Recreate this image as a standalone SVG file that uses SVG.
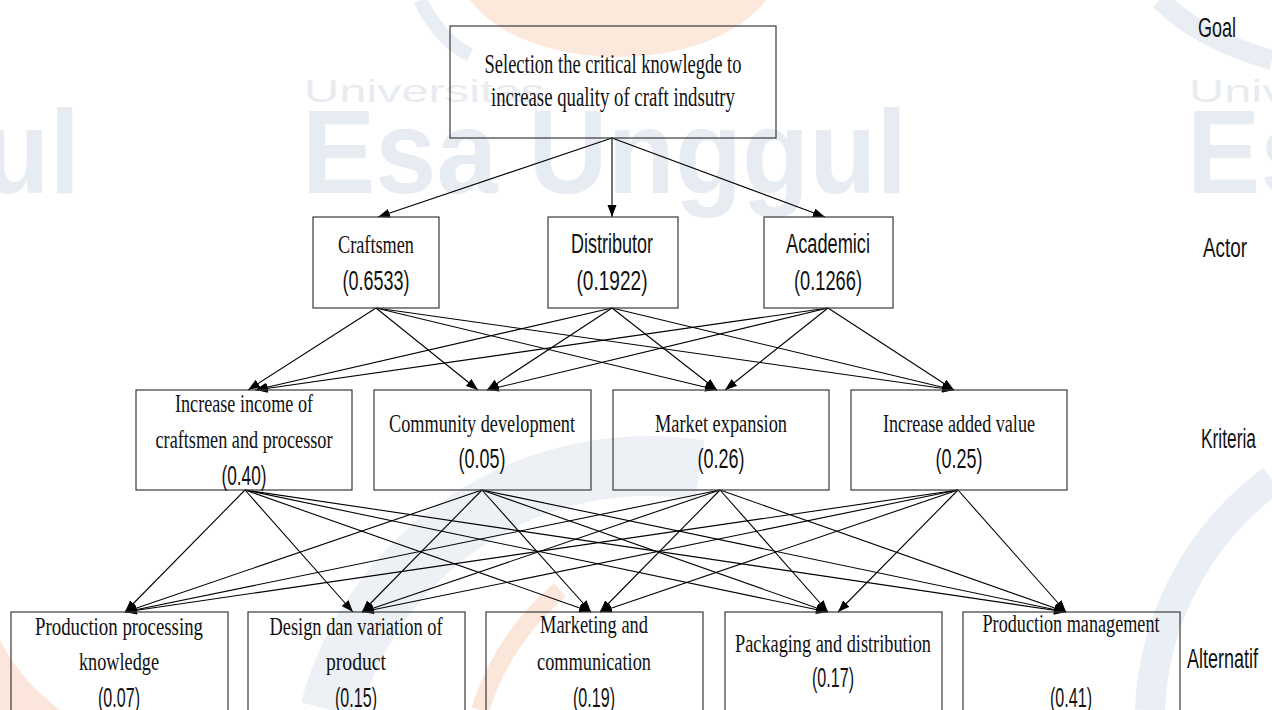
<svg xmlns="http://www.w3.org/2000/svg" width="1272" height="710" viewBox="0 0 1272 710">
<defs>
<marker id="ah" markerUnits="userSpaceOnUse" markerWidth="14" markerHeight="10" refX="12" refY="4.5" orient="auto">
<path d="M0,0 L12,4.5 L0,9 z" fill="#000"/>
</marker>
<style>
.box{fill:none;stroke:#3a3a3a;stroke-width:1.2}
.ser{font-family:"Liberation Serif","Times New Roman",serif;font-size:26px;fill:#111;text-anchor:middle}
.goal{font-size:28px}
.san{font-family:"Liberation Sans",Arial,sans-serif;font-size:27px;fill:#111;text-anchor:middle}
.side{font-family:"Liberation Sans",Arial,sans-serif;font-size:27px;fill:#111}
.wm{font-family:"Liberation Sans",Arial,sans-serif;font-weight:bold;font-size:118px;fill:#e6ecf2}
.wu{font-family:"Liberation Sans",Arial,sans-serif;font-size:32px;fill:#e8ecf0}
#conn path{fill:none;stroke:#000;stroke-width:1.1;marker-end:url(#ah)}
</style>
</defs>
<rect width="1272" height="710" fill="#fff"/>
<g id="watermark">
<ellipse cx="618" cy="-35" rx="160" ry="92" fill="#fde8dc"/>
<path d="M420,0 Q440,40 470,55" fill="none" stroke="#e9eef4" stroke-width="14"/>
<path d="M1160,0 Q1200,40 1272,60" fill="none" stroke="#e9eef4" stroke-width="20"/>
<path d="M330,710 A330,330 0 0 1 700,470" fill="none" stroke="#edf1f6" stroke-width="60"/>
<path d="M480,710 A260,260 0 0 1 560,590" fill="none" stroke="#fbe6da" stroke-width="18"/>
<path d="M1150,710 A300,300 0 0 1 1272,480" fill="none" stroke="#eaeff5" stroke-width="30"/>
<path d="M0,640 L0,710 L60,710 Q20,680 0,640 z" fill="#fce6dc"/>
<text class="wu" x="304" y="102" textLength="241" lengthAdjust="spacingAndGlyphs">Universitas</text>
<text class="wu" x="1189" y="102" textLength="241" lengthAdjust="spacingAndGlyphs">Universitas</text>
<text class="wm" x="302" y="193" textLength="605" lengthAdjust="spacingAndGlyphs">Esa Unggul</text>
<text class="wm" x="1187" y="193" textLength="605" lengthAdjust="spacingAndGlyphs">Esa Unggul</text>
<text class="wm" x="-525" y="193" textLength="605" lengthAdjust="spacingAndGlyphs">Esa Unggul</text>
</g>
<g id="conn">
<path d="M612,138 L378,217"/>
<path d="M612,138 L612,217"/>
<path d="M612,138 L825,217"/>
<path d="M376,308 L248,390"/>
<path d="M376,308 L478,390"/>
<path d="M376,308 L717,390"/>
<path d="M376,308 L954,390"/>
<path d="M612,308 L255,390"/>
<path d="M612,308 L487,390"/>
<path d="M612,308 L717,390"/>
<path d="M612,308 L954,390"/>
<path d="M828,308 L256,390"/>
<path d="M828,308 L487,390"/>
<path d="M828,308 L725,390"/>
<path d="M828,308 L954,390"/>
<path d="M245,490 L125,612"/>
<path d="M245,490 L353,612"/>
<path d="M245,490 L591,612"/>
<path d="M245,490 L828,612"/>
<path d="M245,490 L1066,612"/>
<path d="M482,490 L125,612"/>
<path d="M482,490 L362,612"/>
<path d="M482,490 L591,612"/>
<path d="M482,490 L828,612"/>
<path d="M482,490 L1066,612"/>
<path d="M720,490 L125,612"/>
<path d="M720,490 L362,612"/>
<path d="M720,490 L600,612"/>
<path d="M720,490 L828,612"/>
<path d="M720,490 L1066,612"/>
<path d="M958,490 L125,612"/>
<path d="M958,490 L362,612"/>
<path d="M958,490 L600,612"/>
<path d="M958,490 L838,612"/>
<path d="M958,490 L1066,612"/>
</g>
<g id="goal">
<rect class="box" x="450" y="26" width="326" height="112"/>
<text class="ser goal" x="613" y="73" textLength="257" lengthAdjust="spacingAndGlyphs">Selection the critical knowlegde to</text>
<text class="ser goal" x="613" y="106" textLength="244" lengthAdjust="spacingAndGlyphs">increase quality of craft indsutry</text>
</g>
<g id="actor-craftsmen">
<rect class="box" x="313" y="217" width="126" height="91"/>
<text class="ser" x="376" y="253" textLength="76" lengthAdjust="spacingAndGlyphs">Craftsmen</text>
<text class="san" x="376" y="290" textLength="67" lengthAdjust="spacingAndGlyphs">(0.6533)</text>
</g>
<g id="actor-distributor">
<rect class="box" x="548" y="217" width="130" height="91"/>
<text class="san" x="612" y="253" textLength="82" lengthAdjust="spacingAndGlyphs">Distributor</text>
<text class="san" x="612" y="290" textLength="71" lengthAdjust="spacingAndGlyphs">(0.1922)</text>
</g>
<g id="actor-academici">
<rect class="box" x="764" y="217" width="129" height="91"/>
<text class="san" x="828" y="253" textLength="84" lengthAdjust="spacingAndGlyphs">Academici</text>
<text class="san" x="828" y="290" textLength="68" lengthAdjust="spacingAndGlyphs">(0.1266)</text>
</g>
<g id="crit-income">
<rect class="box" x="136" y="390" width="216" height="100"/>
<text class="ser" x="244" y="412" textLength="138" lengthAdjust="spacingAndGlyphs">Increase income of</text>
<text class="ser" x="244" y="448" textLength="177" lengthAdjust="spacingAndGlyphs">craftsmen and processor</text>
<text class="san" x="244" y="485" textLength="45" lengthAdjust="spacingAndGlyphs">(0.40)</text>
</g>
<g id="crit-community">
<rect class="box" x="374" y="390" width="217" height="100"/>
<text class="ser" x="482" y="432" textLength="186" lengthAdjust="spacingAndGlyphs">Community development</text>
<text class="san" x="482" y="468" textLength="47" lengthAdjust="spacingAndGlyphs">(0.05)</text>
</g>
<g id="crit-market">
<rect class="box" x="613" y="390" width="216" height="100"/>
<text class="ser" x="721" y="432" textLength="132" lengthAdjust="spacingAndGlyphs">Market expansion</text>
<text class="san" x="721" y="468" textLength="47" lengthAdjust="spacingAndGlyphs">(0.26)</text>
</g>
<g id="crit-value">
<rect class="box" x="851" y="390" width="216" height="100"/>
<text class="ser" x="959" y="432" textLength="152" lengthAdjust="spacingAndGlyphs">Increase added value</text>
<text class="san" x="959" y="468" textLength="47" lengthAdjust="spacingAndGlyphs">(0.25)</text>
</g>
<g id="alt-production">
<rect class="box" x="11" y="612" width="217" height="110"/>
<text class="ser" x="119" y="635" textLength="168" lengthAdjust="spacingAndGlyphs">Production processing</text>
<text class="ser" x="119" y="670" textLength="80" lengthAdjust="spacingAndGlyphs">knowledge</text>
<text class="san" x="119" y="707" textLength="42" lengthAdjust="spacingAndGlyphs">(0.07)</text>
</g>
<g id="alt-design">
<rect class="box" x="248" y="612" width="217" height="110"/>
<text class="ser" x="356" y="635" textLength="173" lengthAdjust="spacingAndGlyphs">Design dan variation of</text>
<text class="ser" x="356" y="670" textLength="60" lengthAdjust="spacingAndGlyphs">product</text>
<text class="san" x="356" y="707" textLength="42" lengthAdjust="spacingAndGlyphs">(0.15)</text>
</g>
<g id="alt-marketing">
<rect class="box" x="486" y="612" width="217" height="110"/>
<text class="ser" x="594" y="633" textLength="108" lengthAdjust="spacingAndGlyphs">Marketing and</text>
<text class="ser" x="594" y="670" textLength="114" lengthAdjust="spacingAndGlyphs">communication</text>
<text class="san" x="594" y="707" textLength="42" lengthAdjust="spacingAndGlyphs">(0.19)</text>
</g>
<g id="alt-packaging">
<rect class="box" x="725" y="612" width="217" height="110"/>
<text class="ser" x="833" y="652" textLength="196" lengthAdjust="spacingAndGlyphs">Packaging and distribution</text>
<text class="san" x="833" y="687" textLength="42" lengthAdjust="spacingAndGlyphs">(0.17)</text>
</g>
<g id="alt-management">
<rect class="box" x="963" y="612" width="217" height="110"/>
<text class="ser" x="1071" y="632" textLength="177" lengthAdjust="spacingAndGlyphs">Production management</text>
<text class="san" x="1071" y="707" textLength="42" lengthAdjust="spacingAndGlyphs">(0.41)</text>
</g>
<g id="levels">
<text class="side" x="1198" y="37" textLength="38" lengthAdjust="spacingAndGlyphs">Goal</text>
<text class="side" x="1203" y="257" textLength="44" lengthAdjust="spacingAndGlyphs">Actor</text>
<text class="side" x="1201" y="448" textLength="55" lengthAdjust="spacingAndGlyphs">Kriteria</text>
<text class="side" x="1187" y="668" textLength="71" lengthAdjust="spacingAndGlyphs">Alternatif</text>
</g>
</svg>
